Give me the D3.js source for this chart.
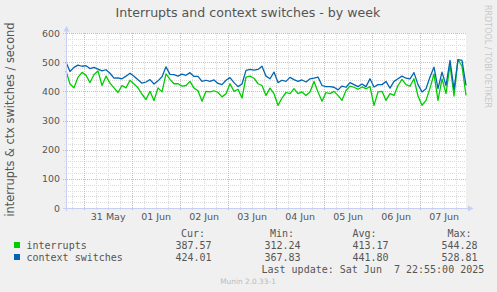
<!DOCTYPE html>
<html>
<head>
<meta charset="utf-8">
<script src="https://cdn.jsdelivr.net/npm/d3@7"></script>
<style>
  html, body { margin: 0; padding: 0; background: #f0f0f0; }
  svg { display: block; }
  text { font-family: 'DejaVu Sans', sans-serif; fill: #555; }
  .mono { font-family: 'DejaVu Sans Mono', monospace; white-space: pre; }
</style>
</head>
<body>
<svg id="chart"></svg>
<script>
// Values, one every 2 hours
const interrupts = [
  470, 425, 412, 448, 465, 455, 430, 458, 470, 420,
  452, 428, 412, 396, 420, 412, 438, 425, 412, 390,
  372, 400, 368, 412, 398, 460, 441, 426, 426, 418,
  420, 434, 411, 402, 366, 400, 398, 402, 396, 381,
  392, 426, 400, 407, 377, 449, 452, 445, 426, 420,
  386, 411, 392, 352, 377, 396, 392, 409, 392, 398,
  386, 398, 434, 398, 366, 396, 392, 400, 386, 369,
  403, 418, 414, 407, 415, 409, 416, 352, 398, 400,
  369, 392, 386, 420, 441, 423, 418, 443, 384, 352,
  369, 411, 460, 369, 443, 392, 491, 384, 509, 486,
  386
];
const contextSwitches = [
  500, 468, 482, 490, 486, 488, 478, 482, 476, 470,
  474, 462, 445, 446, 443, 452, 462, 452, 440, 428,
  432, 440, 425, 436, 450, 484, 458, 457, 452, 459,
  455, 464, 451, 451, 434, 438, 434, 439, 427, 423,
  438, 447, 430, 416, 425, 472, 475, 473, 475, 486,
  452, 443, 466, 430, 438, 434, 448, 440, 434, 439,
  432, 443, 445, 449, 420, 416, 416, 414, 405, 418,
  414, 430, 423, 416, 425, 416, 443, 415, 423, 423,
  434, 411, 434, 443, 452, 445, 443, 464, 423, 398,
  409, 449, 483, 409, 466, 420, 506, 407, 509, 506,
  420
];

const seriesNames = ['interrupts', 'context switches'];
const seriesColors = ['#00cc00', '#0066b3'];
const statHeaders = ['Cur:', 'Min:', 'Avg:', 'Max:'];
const interruptStats = ['387.57', '312.24', '413.17', '544.28'];
const contextStats = ['424.01', '367.83', '441.80', '528.81'];
const yTicks = [0, 100, 200, 300, 400, 500, 600];
const yLabel = 'interrupts & ctx switches / second';
const title = 'Interrupts and context switches - by week';
const lastUpdate = 'Last update: Sat Jun  7 22:55:00 2025';

const endTime = new Date(Date.UTC(2025, 5, 7, 22, 55));
const stepHours = 2;

const width = 497, height = 292;
const plot = {left: 66, right: 466, top: 33, bottom: 208};

const svg = d3.select('#chart')
  .attr('width', width)
  .attr('height', height);

const startTime = d3.utcHour.offset(endTime, -stepHours * (interrupts.length - 1));
const times = interrupts.map((d, i) => d3.utcHour.offset(startTime, i * stepHours));

const xPosition = d3.scaleUtc()
  .domain([startTime, endTime])
  .range([plot.left, plot.right]);

const yPosition = d3.scaleLinear()
  .domain([0, 600])
  .range([plot.bottom, plot.top]);

// Background and canvas
svg.append('rect')
  .attr('width', width)
  .attr('height', height)
  .attr('fill', '#f0f0f0');

svg.append('rect')
  .attr('x', plot.left)
  .attr('y', plot.top)
  .attr('width', plot.right - plot.left)
  .attr('height', plot.bottom - plot.top)
  .attr('fill', '#ffffff');

// Grid
const grid = svg.append('g')
  .attr('shape-rendering', 'crispEdges')
  .attr('stroke-dasharray', '1,1');

const sixHours = xPosition.ticks(d3.utcHour.every(6))
  .filter(d => d.getUTCHours() !== 0);
const days = xPosition.ticks(d3.utcDay.every(1));

grid.selectAll('line.vminor')
  .data(sixHours)
  .enter()
  .append('line')
    .attr('x1', d => Math.round(xPosition(d)) + 0.5)
    .attr('x2', d => Math.round(xPosition(d)) + 0.5)
    .attr('y1', plot.top)
    .attr('y2', plot.bottom + 2)
    .attr('stroke', '#dcdcdc');

const minorY = d3.range(20, 601, 20).filter(d => d % 100 !== 0);

grid.selectAll('line.hminor')
  .data(minorY)
  .enter()
  .append('line')
    .attr('x1', plot.left - 2)
    .attr('x2', plot.right)
    .attr('y1', d => Math.round(yPosition(d)) + 0.5)
    .attr('y2', d => Math.round(yPosition(d)) + 0.5)
    .attr('stroke', '#dcdcdc');

grid.selectAll('line.vmajor')
  .data(days)
  .enter()
  .append('line')
    .attr('x1', d => Math.round(xPosition(d)) + 0.5)
    .attr('x2', d => Math.round(xPosition(d)) + 0.5)
    .attr('y1', plot.top)
    .attr('y2', plot.bottom + 3)
    .attr('stroke', '#f4aaaa');

grid.selectAll('line.hmajor')
  .data(yTicks.filter(d => d > 0))
  .enter()
  .append('line')
    .attr('x1', plot.left - 3)
    .attr('x2', plot.right)
    .attr('y1', d => Math.round(yPosition(d)) + 0.5)
    .attr('y2', d => Math.round(yPosition(d)) + 0.5)
    .attr('stroke', '#f4aaaa');

// Series lines
const calcLine = d3.line()
  .x((d, i) => xPosition(times[i]))
  .y(d => yPosition(d));

svg.append('g')
  .selectAll('path')
  .data([interrupts, contextSwitches])
  .enter()
  .append('path')
    .attr('d', d => calcLine(d))
    .attr('fill', 'none')
    .attr('stroke', (d, i) => seriesColors[i])
    .attr('stroke-width', 1.3)
    .attr('stroke-linejoin', 'round');

// Axes with arrows
const axisColor = '#c8cff5';
const axes = svg.append('g').attr('shape-rendering', 'crispEdges');

axes.append('line')
  .attr('x1', plot.left + 0.5).attr('x2', plot.left + 0.5)
  .attr('y1', plot.bottom + 3).attr('y2', plot.top - 4)
  .attr('stroke', axisColor);

axes.append('line')
  .attr('x1', plot.left - 3).attr('x2', plot.right + 3)
  .attr('y1', plot.bottom + 0.5).attr('y2', plot.bottom + 0.5)
  .attr('stroke', axisColor);

svg.append('path')
  .attr('d', `M${plot.left - 2.5},${plot.top - 1.5} L${plot.left + 3.5},${plot.top - 1.5} L${plot.left + 0.5},${plot.top - 7} Z`)
  .attr('fill', axisColor);

svg.append('path')
  .attr('d', `M${plot.right + 2},${plot.bottom - 2.5} L${plot.right + 2},${plot.bottom + 3.5} L${plot.right + 7.5},${plot.bottom + 0.5} Z`)
  .attr('fill', axisColor);

// Tick labels
svg.append('g')
  .selectAll('text')
  .data(yTicks)
  .enter()
  .append('text')
    .attr('x', plot.left - 6)
    .attr('y', d => yPosition(d) + 3.5)
    .attr('text-anchor', 'end')
    .style('font-size', '9.4px')
    .text(d => d);

const noons = xPosition.ticks(d3.utcHour.every(12))
  .filter(d => d.getUTCHours() === 12);

svg.append('g')
  .selectAll('text')
  .data(noons)
  .enter()
  .append('text')
    .attr('x', d => xPosition(d))
    .attr('y', 220)
    .attr('text-anchor', 'middle')
    .style('font-size', '9.5px')
    .text(d3.utcFormat('%d %b'));

// Titles
svg.append('text')
  .attr('x', 248)
  .attr('y', 17)
  .attr('text-anchor', 'middle')
  .style('font-size', '12.6px')
  .text(title);

svg.append('text')
  .attr('transform', `translate(14,${(plot.top + plot.bottom) / 2 - 1}) rotate(-90)`)
  .attr('text-anchor', 'middle')
  .style('font-size', '11.4px')
  .text(yLabel);

svg.append('text')
  .attr('transform', 'translate(485,5) rotate(90)')
  .attr('text-anchor', 'start')
  .style('font-size', '8px')
  .style('fill', '#c8c8c8')
  .text('RRDTOOL / TOBI OETIKER');

// Legend
const legend = svg.append('g').style('font-size', '10px');
const headerX = [181, 270, 352.5, 447.5];
const valueX = [175.5, 264.5, 352.5, 441.5];

legend.selectAll('text.head')
  .data(statHeaders)
  .enter()
  .append('text')
    .attr('class', 'mono')
    .attr('x', (d, i) => headerX[i])
    .attr('y', 237)
    .text(d => d);

[interruptStats, contextStats].forEach((stats, row) => {
  const rowY = 249 + row * 12;

  legend.append('rect')
    .attr('x', 14)
    .attr('y', rowY - 7)
    .attr('width', 6)
    .attr('height', 6)
    .attr('fill', seriesColors[row]);

  legend.append('text')
    .attr('class', 'mono')
    .attr('x', 26.5)
    .attr('y', rowY)
    .text(seriesNames[row]);

  legend.selectAll(`text.v${row}`)
    .data(stats)
    .enter()
    .append('text')
      .attr('class', 'mono')
      .attr('x', (d, i) => valueX[i])
      .attr('y', rowY)
      .text(d => d);
});

legend.append('text')
  .attr('class', 'mono')
  .attr('x', 261.5)
  .attr('y', 273)
  .text(lastUpdate);

svg.append('text')
  .attr('x', 248)
  .attr('y', 284)
  .attr('text-anchor', 'middle')
  .style('font-size', '7.4px')
  .style('fill', '#bbbbbb')
  .text('Munin 2.0.33-1');
</script>
</body>
</html>
